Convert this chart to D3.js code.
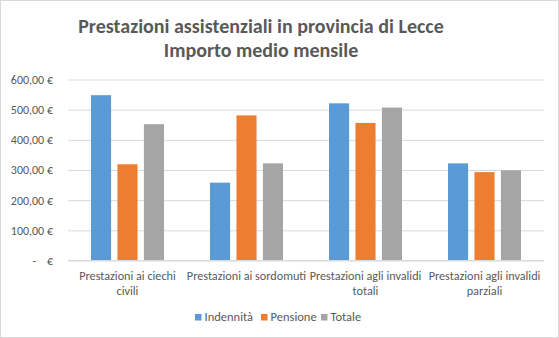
<!DOCTYPE html>
<html><head><meta charset="utf-8">
<script src="https://cdn.jsdelivr.net/npm/d3@7"></script>
<style>body{margin:0;background:#fff}svg{display:block}</style>
</head><body>
<svg id="c" width="559" height="338"></svg>
<script>
const categories = [["Prestazioni ai ciechi","civili"],["Prestazioni ai sordomuti"],["Prestazioni agli invalidi","totali"],["Prestazioni agli invalidi","parziali"]];
const seriesNames = ["Indennità","Pensione","Totale"];
const indennita = [548, 258, 521, 322];
const pensione = [319, 481, 456, 293];
const totale = [452, 322, 507, 299];
const yTicks = [0,100,200,300,400,500,600];
const colors = ["#5b9bd5","#ed7d31","#a5a5a5"];
const series = [indennita, pensione, totale];

const svg = d3.select("#c");
const W = 559, H = 338;
svg.append("rect").attr("x",0.5).attr("y",0.5).attr("width",W-1).attr("height",H-1)
  .attr("fill","#fff").attr("stroke","#d9d9d9");
const font = "Calibri, Carlito, Lato, 'Open Sans', sans-serif";
const txt = "#595959";

svg.append("text").attr("x",261).attr("y",33).attr("text-anchor","middle")
  .attr("font-family",font).attr("font-weight","bold").attr("font-size",20).attr("fill",txt)
  .text("Prestazioni assistenziali in provincia di Lecce");
svg.append("text").attr("x",261).attr("y",57).attr("text-anchor","middle")
  .attr("font-family",font).attr("font-weight","bold").attr("font-size",20).attr("fill",txt)
  .text("Importo medio mensile");

const x0 = d3.scaleBand().domain(d3.range(categories.length)).range([68,544]).paddingInner(0).paddingOuter(0);
const y = d3.scaleLinear().domain([0,600]).range([260.5,79.5]);
const x1 = d3.scaleBand().domain(d3.range(3)).range([0,73]).paddingInner(0.24).paddingOuter(0);

const fmt = v => v===0 ? "-\u00a0\u00a0\u00a0\u00a0€" : d3.format(",.2f")(v).replace(/,/g,"X").replace(".",",").replace(/X/g,".") + "\u00a0€";

const ya = d3.axisLeft(y).tickValues(yTicks).tickSize(-(544-68)).tickFormat(fmt).tickPadding(15);
const g = svg.append("g").attr("transform","translate(68,0)").call(ya);
g.select(".domain").remove();
g.selectAll(".tick line").attr("stroke","#d9d9d9");
g.selectAll(".tick text").attr("font-family",font).attr("font-size",12).attr("fill",txt);

const groups = svg.append("g").selectAll("g").data(categories).join("g")
  .attr("transform",(d,i)=>`translate(${x0(i)+(x0.bandwidth()-73)/2},0)`);
groups.selectAll("rect").data((d,i)=>series.map((s,k)=>({k,v:s[i]}))).join("rect")
  .attr("x",d=>x1(d.k)).attr("width",x1.bandwidth())
  .attr("y",d=>y(d.v)).attr("height",d=>y(0)-y(d.v)).attr("fill",d=>colors[d.k]);

svg.append("line").attr("x1",68).attr("x2",544).attr("y1",260.5).attr("y2",260.5).attr("stroke","#d9d9d9");

const cl = svg.append("g");
categories.forEach((lines,i)=>{
  const t = cl.append("text").attr("x",x0(i)+x0.bandwidth()/2).attr("y",279.5).attr("text-anchor","middle")
    .attr("font-family",font).attr("font-size",12.2).attr("fill",txt);
  lines.forEach((l,j)=>t.append("tspan").attr("x",x0(i)+x0.bandwidth()/2).attr("dy",j?15:0).text(l));
});

const legX = [195,261,321];
const lg = svg.append("g");
seriesNames.forEach((n,k)=>{
  lg.append("rect").attr("x",legX[k]).attr("y",314).attr("width",6.5).attr("height",6.5).attr("fill",colors[k]);
  lg.append("text").attr("x",legX[k]+9.5).attr("y",320.5).attr("font-family",font).attr("font-size",12.5).attr("fill",txt).text(n);
});
</script>
</body></html>
